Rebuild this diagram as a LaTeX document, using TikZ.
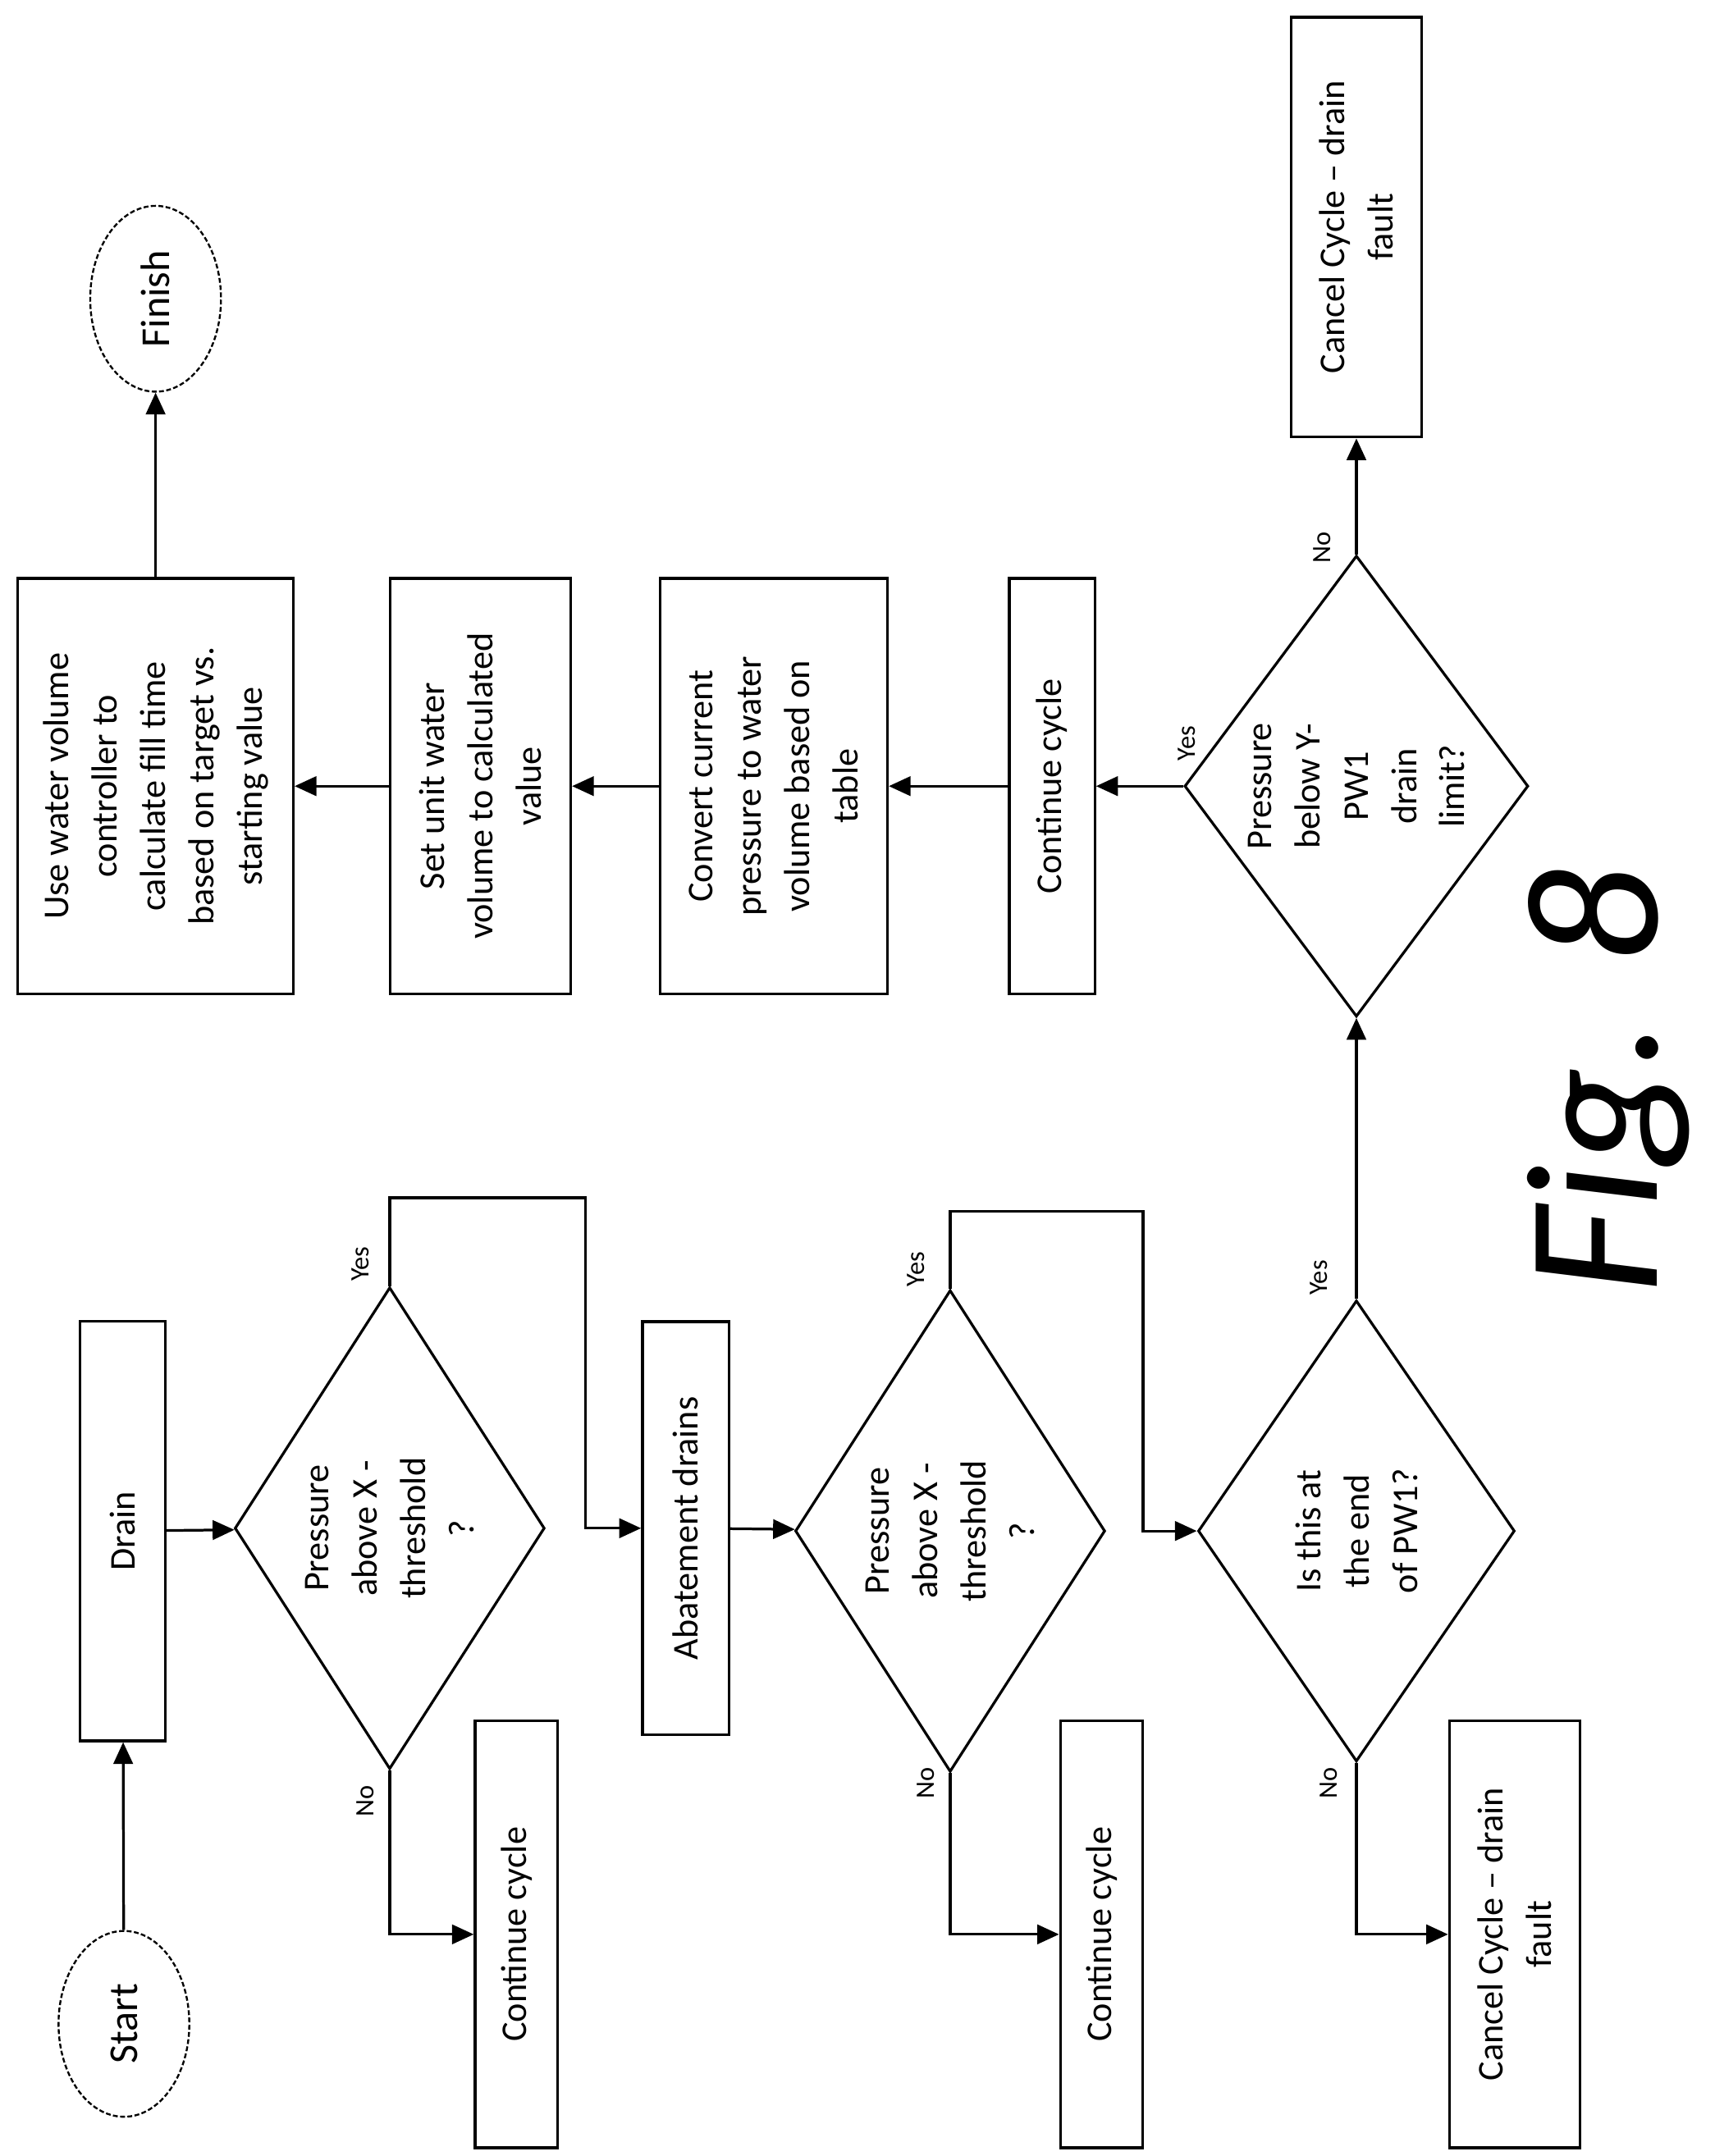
\documentclass[tikz,border=0pt]{standalone}
\usepackage{fontspec}
\setmainfont{Carlito}
\setsansfont{Carlito}
\usetikzlibrary{shapes.geometric, arrows.meta}

\tikzset{
  box/.style={draw, line width=1.1pt, rotate=90, align=center, font=\fontsize{15}{20}\selectfont, inner sep=2pt},
  decision/.style={draw, diamond, line width=1.1pt, rotate=90, align=center, inner sep=0pt, minimum width=7cm, minimum height=4.5cm, font=\fontsize{15}{20}\selectfont},
  terminal/.style={draw, ellipse, dashed, dash pattern=on 2pt off 1pt, line width=0.8pt, rotate=90, minimum width=2.7cm, minimum height=1.9cm, font=\fontsize{17}{20}\selectfont},
  arrow/.style={line width=1.1pt, -{Triangle[length=9pt, width=8pt]}},
  answer/.style={rotate=90, font=\fontsize{11}{13}\selectfont}
}

\begin{document}
\begin{tikzpicture}[x=0.02cm, y=-0.02cm]
    \useasboundingbox (0,0) rectangle (1245,1566);

    % Terminals
    \node[terminal] (start) at (90,1470) {Start};
    \node[terminal] (finish) at (113,217) {Finish};

    % First column of steps
    \node[box, minimum width=6.1cm, minimum height=1.24cm] (drain) at (89,1112) {Drain};
    \node[decision] (above1) at (283,1110) {Pressure\\above X -\\threshold\\?};
    \node[box, minimum width=6.2cm, minimum height=1.2cm] (cont1) at (375,1405) {Continue cycle};
    \node[box, minimum width=6cm, minimum height=1.26cm] (abate) at (498,1110) {Abatement drains};
    \node[decision, minimum height=4.2cm] (above2) at (690,1112) {Pressure\\above X -\\threshold\\?};
    \node[box, minimum width=6.2cm, minimum height=1.2cm] (cont2) at (800,1405) {Continue cycle};
    \node[decision, minimum width=6.7cm, minimum height=4.6cm] (endpw) at (985,1112) {Is this at\\the end\\of PW1?};
    \node[box, minimum width=6.2cm, minimum height=1.9cm] (cancel2) at (1100,1405) {Cancel Cycle -- drain\\fault};

    % Second column of steps
    \node[decision, minimum width=6.7cm, minimum height=4.4cm] (below) at (985,571) {Pressure\\below Y-\\PW1\\drain\\limit?};
    \node[box, minimum width=6.1cm, minimum height=1.9cm] (cancel1) at (985,165) {Cancel Cycle -- drain\\fault};
    \node[box, minimum width=6.04cm, minimum height=1.24cm] (cont3) at (764,571) {Continue cycle};
    \node[box, minimum width=6.04cm, minimum height=3.3cm] (convert) at (562,571) {Convert current\\pressure to water\\volume based on\\table};
    \node[box, minimum width=6.04cm, minimum height=2.62cm] (setvol) at (349,571) {Set unit water\\volume to calculated\\value};
    \node[box, minimum width=6.04cm, minimum height=4cm] (usectl) at (113,571) {Use water volume\\controller to\\calculate fill time\\based on target vs.\\starting value};

    % Bends
    \coordinate (bend1) at (425,870);
    \coordinate (bend2) at (830,880);

    % Connectors
    \draw[arrow] (start) -- (drain);
    \draw[arrow] (drain) -- (above1);
    \draw[arrow] (above1.west) |- (cont1);
    \draw[arrow] (above1.east) |- (bend1) |- (abate);
    \draw[arrow] (abate) -- (above2);
    \draw[arrow] (above2.west) |- (cont2);
    \draw[arrow] (above2.east) |- (bend2) |- (endpw);
    \draw[arrow] (endpw.west) |- (cancel2);
    \draw[arrow] (endpw.east) -- (below.west);
    \draw[arrow] (below.east) -- (cancel1);
    \draw[arrow] (below.north) -- (cont3);
    \draw[arrow] (cont3) -- (convert);
    \draw[arrow] (convert) -- (setvol);
    \draw[arrow] (setvol) -- (usectl);
    \draw[arrow] (usectl) -- (finish);

    % Answers
    \node[answer] (yes1) at (262,918) {Yes};
    \node[answer] (no1) at (265,1308) {No};
    \node[answer] (yes2) at (665,922) {Yes};
    \node[answer] (no2) at (672,1295) {No};
    \node[answer] (yes3) at (958,928) {Yes};
    \node[answer] (no3) at (965,1295) {No};
    \node[answer] (yes4) at (862,540) {Yes};
    \node[answer] (no4) at (960,398) {No};

    % Figure label
    \node[rotate=90, font=\fontsize{78}{80}\selectfont\itshape\sffamily] (fig) at (1168,785) {Fig. 8};
\end{tikzpicture}
\end{document}
